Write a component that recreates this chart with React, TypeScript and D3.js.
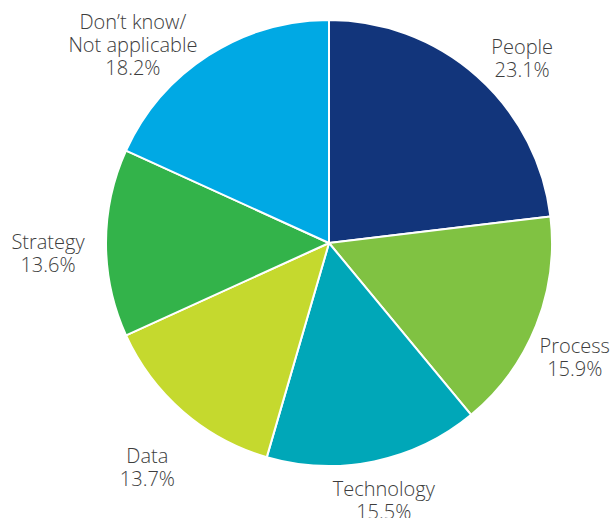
import { useEffect, useRef } from 'react';
import * as d3 from 'd3';

const categories = ['People', 'Process', 'Technology', 'Data', 'Strategy', 'Don’t know/\nNot applicable'];
const shares = [23.1, 15.9, 15.5, 13.7, 13.6, 18.2];
const colors = ['#12357b', '#80c242', '#00a7b8', '#c5d92e', '#33b34a', '#00a9e4'];

interface Slice {
  label: string;
  value: number;
  color: string;
}

const App = () => {
  const svgRef = useRef<SVGSVGElement>(null);

  useEffect(() => {
    if (!svgRef.current) return;
    d3.select(svgRef.current).selectAll('*').remove();

    const width = 612;
    const height = 518;
    const cx = 329;
    const cy = 243;
    const radius = 223;
    const labelRadius = 270;
    const lineHeight = 23;

    // hand nudges so labels sit where the original had them
    const nudges: [number, number][] = [
      [14, 17], [-5, 14], [0, -7], [-5, 20], [-11, 10], [-50, 29],
    ];

    const data: Slice[] = categories.map((c, i) => ({ label: c, value: shares[i], color: colors[i] }));

    const svg = d3.select(svgRef.current)
      .attr('width', width)
      .attr('height', height)
      .append('g')
      .attr('transform', `translate(${cx},${cy})`);

    const pie = d3.pie<Slice>().sort(null).value(d => d.value);
    const arcs = pie(data);

    const arc = d3.arc<d3.PieArcDatum<Slice>>()
      .innerRadius(0)
      .outerRadius(radius);

    svg.selectAll('path')
      .data(arcs)
      .enter()
      .append('path')
      .attr('d', arc)
      .attr('fill', d => d.data.color)
      .attr('stroke', '#ffffff')
      .attr('stroke-width', 2)
      .attr('stroke-linejoin', 'round');

    arcs.forEach((d, i) => {
      const mid = (d.startAngle + d.endAngle) / 2;
      const x = labelRadius * Math.sin(mid) + nudges[i][0];
      const y = -labelRadius * Math.cos(mid) + nudges[i][1];
      const lines = [...d.data.label.split('\n'), `${d.data.value.toFixed(1)}%`];

      const text = svg.append('text')
        .attr('text-anchor', 'middle')
        .style('font-family', '"Open Sans", sans-serif')
        .style('font-weight', 300)
        .style('font-size', '20px')
        .style('fill', '#3d3d3d');

      lines.forEach((line, j) => {
        text.append('tspan')
          .attr('x', x)
          .attr('y', y + (j - (lines.length - 1) / 2) * lineHeight)
          .attr('dy', '0.36em')
          .text(line);
      });
    });
  }, []);

  return (
    <svg ref={svgRef} style={{ position: 'absolute', left: 0, top: 0, background: '#ffffff' }}></svg>
  );
};

export default App;
